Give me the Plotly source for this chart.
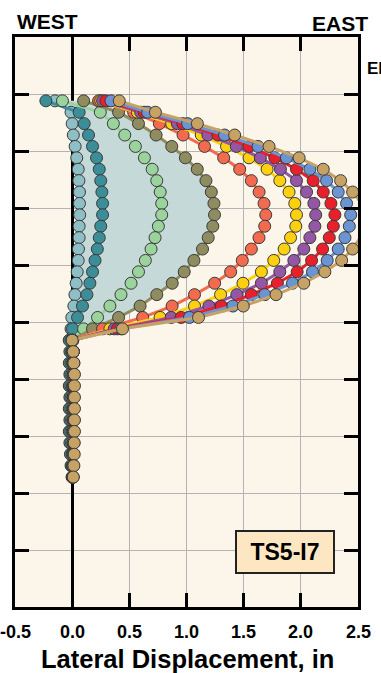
import plotly.graph_objects as go

# Reading depths (ft below top of casing)
depth_ft = [11.2, 13.2, 15.2, 17.2, 19.2, 21.2, 23.2, 25.2, 27.2, 29.2,
            31.2, 33.2, 35.2, 37.2, 39.2, 41.2, 43.2, 45.2, 47.2, 49.2,
            51.2, 53.2, 55.2, 57.2, 59.2, 61.2, 63.2, 65.2, 67.2, 69.2,
            71.2, 73.2, 75.2, 77.2]

# Cumulative lateral displacement (in) for each survey, oldest first
survey_01 = [-0.15, -0.01, 0.0, 0.01, 0.026, 0.04, 0.053, 0.059, 0.064, 0.064,
             0.066, 0.061, 0.061, 0.055, 0.053, 0.044, 0.035, 0.024, 0.015, -0.003,
             -0.01, -0.02, -0.015, -0.015, -0.015, -0.02, -0.015, -0.02, -0.015, -0.02,
             -0.015, -0.01, -0.005, 0.0]
survey_02 = [-0.23, 0.061, 0.105, 0.143, 0.178, 0.213, 0.237, 0.25, 0.26, 0.266,
             0.266, 0.25, 0.237, 0.22, 0.2, 0.178, 0.155, 0.129, 0.09, 0.047,
             0.003, -0.026, -0.02, -0.025, -0.02, -0.025, -0.02, -0.025, -0.02, -0.025,
             -0.02, -0.015, -0.01, 0.0]
survey_03 = [-0.085, 0.246, 0.36, 0.46, 0.553, 0.632, 0.70, 0.74, 0.77, 0.783,
             0.783, 0.754, 0.725, 0.69, 0.64, 0.58, 0.515, 0.427, 0.33, 0.222,
             0.10, -0.01, -0.005, -0.01, -0.005, -0.01, -0.005, -0.01, -0.005, -0.01,
             -0.005, 0.0, 0.0, 0.005]
survey_04 = [0.10, 0.406, 0.58, 0.734, 0.871, 0.99, 1.094, 1.17, 1.217, 1.24,
             1.245, 1.23, 1.19, 1.14, 1.065, 0.98, 0.875, 0.74, 0.594, 0.406,
             0.178, 0.0, 0.0, 0.0, 0.005, 0.0, 0.005, 0.0, 0.005, 0.0,
             0.005, 0.005, 0.005, 0.005]
survey_05 = [0.231, 0.538, 0.763, 0.97, 1.158, 1.325, 1.465, 1.567, 1.635, 1.678,
             1.693, 1.684, 1.634, 1.567, 1.488, 1.386, 1.246, 1.07, 0.874, 0.617,
             0.266, 0.005, 0.005, 0.01, 0.01, 0.01, 0.01, 0.01, 0.01, 0.01,
             0.01, 0.01, 0.01, 0.005]
survey_06 = [0.25, 0.57, 0.87, 1.129, 1.35, 1.547, 1.705, 1.816, 1.897, 1.947,
             1.962, 1.956, 1.91, 1.854, 1.763, 1.655, 1.494, 1.298, 1.07, 0.769,
             0.33, 0.005, 0.01, 0.01, 0.01, 0.01, 0.01, 0.01, 0.01, 0.01,
             0.01, 0.01, 0.01, 0.005]
survey_07 = [0.266, 0.60, 0.92, 1.187, 1.436, 1.646, 1.822, 1.962, 2.05, 2.114,
             2.13, 2.123, 2.079, 2.026, 1.939, 1.816, 1.655, 1.44, 1.196, 0.866,
             0.368, 0.005, 0.01, 0.01, 0.01, 0.01, 0.01, 0.01, 0.01, 0.01,
             0.01, 0.01, 0.01, 0.005]
survey_08 = [0.295, 0.63, 0.968, 1.275, 1.547, 1.772, 1.962, 2.108, 2.196, 2.263,
             2.298, 2.284, 2.249, 2.19, 2.094, 1.968, 1.795, 1.567, 1.304, 0.953,
             0.397, 0.005, 0.01, 0.012, 0.012, 0.012, 0.012, 0.012, 0.012, 0.012,
             0.012, 0.01, 0.01, 0.005]
survey_09 = [0.34, 0.66, 1.01, 1.333, 1.626, 1.874, 2.079, 2.225, 2.327, 2.40,
             2.436, 2.424, 2.386, 2.327, 2.231, 2.102, 1.927, 1.684, 1.406, 1.026,
             0.427, 0.0, 0.01, 0.015, 0.015, 0.015, 0.015, 0.015, 0.015, 0.015,
             0.015, 0.012, 0.01, 0.008]
survey_10 = [0.412, 0.728, 1.095, 1.421, 1.722, 1.985, 2.196, 2.348, 2.453, 2.532,
             2.57, 2.56, 2.52, 2.453, 2.357, 2.21, 2.026, 1.783, 1.497, 1.105,
             0.44, 0.0, 0.01, 0.015, 0.02, 0.02, 0.02, 0.02, 0.02, 0.02,
             0.018, 0.018, 0.015, 0.01]

surveys = [survey_01, survey_02, survey_03, survey_04, survey_05,
           survey_06, survey_07, survey_08, survey_09, survey_10]
colors = ["#8fbfc6", "#3b8d98", "#9bd39d", "#8f8d5f", "#f26b4f",
          "#fdd10f", "#9457a6", "#e8202c", "#6b95d2", "#c6a264"]

x_ticks = [-0.5, 0.0, 0.5, 1.0, 1.5, 2.0, 2.5]

BG = "#fcf5e9"
FONT = "Arial, Liberation Sans, sans-serif"

fig = go.Figure()

# shaded envelope between the first survey and the fourth survey
fig.add_trace(go.Scatter(
    x=survey_01 + survey_04[::-1],
    y=depth_ft + depth_ft[::-1],
    fill="toself", fillcolor="#c6d9d9", mode="none",
    hoverinfo="skip", showlegend=False,
))

for vals, col in zip(surveys, colors):
    fig.add_trace(go.Scatter(
        x=vals, y=depth_ft, mode="lines+markers",
        line=dict(color=col, width=3),
        marker=dict(color=col, size=12, line=dict(color="#3a3a3a", width=1)),
        cliponaxis=False, showlegend=False,
    ))

axis_common = dict(
    showline=True, linecolor="black", linewidth=3, mirror="ticks",
    ticks="inside", ticklen=14, tickwidth=3, tickcolor="black",
    showgrid=True, gridcolor="#b3b3b3", gridwidth=1,
    automargin=False,
)

# tick labels drawn as annotations so the edge label at -0.5 still shows
tick_annotations = [
    dict(text=f"<b>{v:.1f}</b>", xref="x", yref="paper", x=v, y=-0.044,
         xanchor="center", yanchor="middle", showarrow=False,
         font=dict(size=18, family=FONT))
    for v in x_ticks
]

fig.update_layout(
    width=381, height=673,
    margin=dict(l=15, r=23, t=37, b=66),
    paper_bgcolor="white", plot_bgcolor=BG,
    font=dict(family=FONT, color="black"),
    xaxis=dict(
        range=[-0.5, 2.5], tickvals=x_ticks, showticklabels=False,
        zeroline=True, zerolinecolor="black", zerolinewidth=3,
        **axis_common,
    ),
    yaxis=dict(
        range=[100, 0], tick0=0, dtick=10, showticklabels=False,
        zeroline=False,
        **axis_common,
    ),
    annotations=tick_annotations + [
        dict(text="<b>WEST</b>", xref="paper", yref="paper", x=0.0, y=1.0265,
             xanchor="left", yanchor="middle", showarrow=False,
             font=dict(size=21, family=FONT)),
        dict(text="<b>EAST</b>", xref="paper", yref="paper", x=1.035, y=1.023,
             xanchor="right", yanchor="middle", showarrow=False,
             font=dict(size=21, family=FONT)),
        dict(text="<b>EL.</b>", xref="paper", yref="paper", x=1.02, y=0.9456,
             xanchor="left", yanchor="middle", showarrow=False,
             font=dict(size=17, family=FONT)),
        dict(text="<b>Lateral Displacement, in</b>", xref="paper", yref="paper",
             x=0.503, y=-0.091, xanchor="center", yanchor="middle", showarrow=False,
             font=dict(size=25.5, family=FONT)),
        dict(text="<b>TS5-I7</b>", xref="x", yref="y", x=1.86, y=90.35,
             xanchor="center", yanchor="middle", showarrow=False,
             width=92, height=36, borderpad=2, borderwidth=2,
             bordercolor="#222222", bgcolor="#fde7c3",
             font=dict(size=23, family=FONT)),
    ],
)

fig.write_html("out.html")
